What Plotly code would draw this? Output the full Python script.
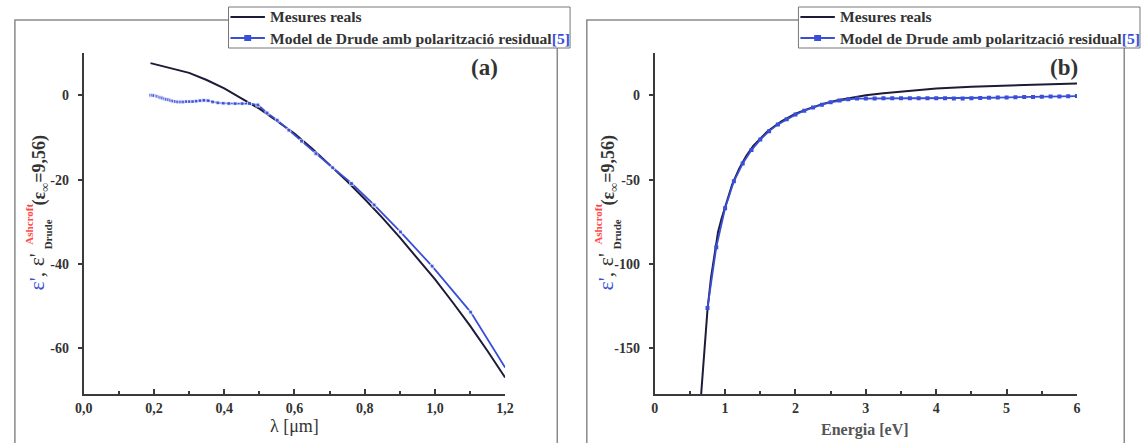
import plotly.graph_objects as go

# -------------------------------------------------
# DATA
# -------------------------------------------------

# (a) permittivity vs wavelength
lam_meas = [0.19, 0.25, 0.30, 0.35, 0.40, 0.45, 0.50, 0.55, 0.60, 0.65, 0.70,
            0.75, 0.80, 0.85, 0.90, 0.95, 1.00, 1.05, 1.10, 1.15, 1.20]
eps_meas_lam = [7.6, 6.3, 5.3, 3.6, 1.6, -0.8, -3.2, -6.1, -9.1, -12.6, -16.4,
                -20.4, -24.6, -29.0, -33.7, -38.6, -43.6, -49.0, -54.6, -60.6, -66.9]

lam_model = [0.190, 0.195, 0.200, 0.207, 0.211, 0.216, 0.220, 0.225, 0.231, 0.236,
             0.242, 0.248, 0.254, 0.261, 0.268, 0.276, 0.283, 0.292, 0.301, 0.310,
             0.320, 0.331, 0.342, 0.354, 0.367, 0.382, 0.397, 0.413, 0.431, 0.451,
             0.472, 0.496, 0.522, 0.551, 0.584, 0.620, 0.661, 0.709, 0.763, 0.827,
             0.902, 0.992, 1.102, 1.200]
eps_model_lam = [0.0, 0.0, -0.1, -0.2, -0.3, -0.5, -0.6, -0.7, -0.9, -1.0,
                 -1.1, -1.3, -1.4, -1.5, -1.6, -1.6, -1.6, -1.5, -1.5, -1.5,
                 -1.4, -1.3, -1.2, -1.3, -1.6, -1.8, -1.9, -2.0, -2.0, -2.0,
                 -2.0, -2.3, -4.2, -5.9, -8.3, -10.9, -13.9, -17.2, -20.9, -26.0,
                 -32.4, -40.5, -51.4, -64.5]

# (b) permittivity vs energy
en_meas = [0.66, 0.70, 0.75, 0.80, 0.85, 0.90, 0.95, 1.00, 1.10, 1.20, 1.30, 1.40,
           1.50, 1.60, 1.80, 2.00, 2.20, 2.40, 2.60, 2.80, 3.00, 3.25, 3.50, 4.00,
           4.50, 5.00, 5.50, 6.00]
eps_meas_en = [-177, -152, -127, -108, -93, -81, -73, -66, -53, -43.5, -36, -30,
               -25.5, -21.5, -15.5, -11, -7.8, -5.0, -3.0, -1.4, 0.0, 1.2, 2.2, 3.9,
               5.0, 5.8, 6.4, 6.9]

en_model = [0.75, 0.875, 1.0, 1.125, 1.25, 1.375, 1.5, 1.625, 1.75, 1.875,
            2.0, 2.125, 2.25, 2.375, 2.5, 2.625, 2.75, 2.875, 3.0, 3.125,
            3.25, 3.375, 3.5, 3.625, 3.75, 3.875, 4.0, 4.125, 4.25, 4.375,
            4.5, 4.625, 4.75, 4.875, 5.0, 5.125, 5.25, 5.375, 5.5, 5.625,
            5.75, 5.875, 6.0]
eps_model_en = [-126, -90, -67, -51, -40.5, -32.5, -26.3, -21.3, -17.3, -14.2,
                -11.5, -9.2, -7.3, -5.6, -4.2, -3.1, -2.4, -2.0, -1.9, -1.9,
                -1.8, -1.8, -1.8, -1.8, -1.8, -1.8, -1.8, -1.8, -1.9, -1.9,
                -1.8, -1.7, -1.5, -1.4, -1.3, -1.2, -1.1, -1.0, -0.9, -0.8,
                -0.7, -0.6, -0.5]

name_meas = "Mesures reals"
name_model = "Model de Drude amb polarització residual<span style='color:#3a4fd8'>[5]</span>"

lam_ticks = [0.0, 0.2, 0.4, 0.6, 0.8, 1.0, 1.2]
lam_ticktext = ["0,0", "0,2", "0,4", "0,6", "0,8", "1,0", "1,2"]
eps_lam_ticks = [-60, -40, -20, 0]
en_ticks = [0, 1, 2, 3, 4, 5, 6]
eps_en_ticks = [-150, -100, -50, 0]

# -------------------------------------------------
# STYLE
# -------------------------------------------------

W, H = 1148, 443
SERIF = "Liberation Serif, Times New Roman, serif"
BLACK = "#1c1c3a"
BLUE = "#3a4fd8"
AXIS = "#3a3a3a"


def px_x(x):
    return x / W


def px_y(y):
    return 1 - y / H


fig = go.Figure()

# -------------------------------------------------
# TRACES
# -------------------------------------------------

fig.add_trace(go.Scatter(
    x=lam_meas, y=eps_meas_lam, name=name_meas, mode="lines",
    line=dict(color=BLACK, width=2), xaxis="x", yaxis="y",
))
fig.add_trace(go.Scatter(
    x=lam_model, y=eps_model_lam, name=name_model, mode="lines+markers",
    line=dict(color=BLUE, width=1.8),
    marker=dict(symbol="square", size=[4] * (len(lam_model) - 1) + [0], color=BLUE),
    xaxis="x", yaxis="y",
))
fig.add_trace(go.Scatter(
    x=en_meas, y=eps_meas_en, name=name_meas, mode="lines",
    line=dict(color=BLACK, width=2), xaxis="x2", yaxis="y2",
))
fig.add_trace(go.Scatter(
    x=en_model, y=eps_model_en, name=name_model, mode="lines+markers",
    line=dict(color=BLUE, width=1.8),
    marker=dict(symbol="square", size=4, color=BLUE),
    xaxis="x2", yaxis="y2",
))

# -------------------------------------------------
# AXES
# -------------------------------------------------

tick_font = dict(family=SERIF, size=14, color="#333", weight="bold")
y_dom = [px_y(394), px_y(53)]

common_x = dict(
    showline=True, linecolor=AXIS, linewidth=2, ticks="inside", ticklen=5,
    tickwidth=1.5, tickcolor=AXIS, showgrid=False, zeroline=False,
    tickfont=tick_font, ticklabelstandoff=0,
)
common_y = dict(
    showline=True, linecolor=AXIS, linewidth=2, ticks="outside", ticklen=4,
    tickwidth=1.5, tickcolor=AXIS, showgrid=False, zeroline=False,
    tickfont=tick_font, ticklabelstandoff=6,
)

fig.update_layout(
    xaxis=dict(common_x, domain=[px_x(76), px_x(504)], range=[0, 1.2],
               tickvals=lam_ticks, ticktext=lam_ticktext, anchor="y",
               minor=dict(ticks="inside", ticklen=3, dtick=0.1, tickcolor=AXIS)),
    yaxis=dict(common_y, domain=y_dom, range=[-70.8, 10], anchor="x",
               tickvals=eps_lam_ticks, ticktext=["-60", "-40", "-20", "0"]),
    xaxis2=dict(common_x, domain=[px_x(656), px_x(1085)], range=[0, 6],
                tickvals=en_ticks, anchor="y2",
                minor=dict(ticks="inside", ticklen=3, dtick=0.5, tickcolor=AXIS)),
    yaxis2=dict(common_y, domain=y_dom, range=[-177, 25], anchor="x2",
                tickvals=eps_en_ticks, ticktext=["-150", "-100", "-50", "0"]),
)

# -------------------------------------------------
# FRAMES
# -------------------------------------------------

for x0, x1 in [(6, 557), (587, 1133)]:
    fig.add_shape(type="rect", xref="paper", yref="paper", layer="below",
                  x0=px_x(x0), x1=px_x(x1), y0=px_y(448), y1=px_y(20),
                  line=dict(color="#8a8a8a", width=1.5))

annotations = []


def ann(text, x, y, size, color="#333", bold=True, angle=0, anchor="center"):
    annotations.append(dict(
        text=text, x=px_x(x), y=px_y(y), xref="paper", yref="paper",
        showarrow=False, textangle=angle, xanchor=anchor, yanchor="middle",
        font=dict(family=SERIF, size=size, color=color,
                  weight="bold" if bold else "normal"),
    ))


# -------------------------------------------------
# LEGENDS (drawn by hand: boxed, two rows)
# -------------------------------------------------

for lx in [223, 802]:
    fig.add_shape(type="rect", xref="paper", yref="paper", layer="above",
                  x0=px_x(lx), x1=px_x(lx + 347), y0=px_y(48), y1=px_y(7),
                  fillcolor="white", line=dict(color="#777", width=1))
    for row_y, color in [(17, BLACK), (38, BLUE)]:
        fig.add_shape(type="line", xref="paper", yref="paper", layer="above",
                      x0=px_x(lx + 2), x1=px_x(lx + 37), y0=px_y(row_y), y1=px_y(row_y),
                      line=dict(color=color, width=2))
    fig.add_shape(type="rect", xref="paper", yref="paper", layer="above",
                  x0=px_x(lx + 16), x1=px_x(lx + 23), y0=px_y(41), y1=px_y(35),
                  fillcolor=BLUE, line=dict(width=0))
    ann(name_meas, lx + 40, 17, 15.6, "#333", anchor="left")
    ann(name_model, lx + 40, 38, 15.6, "#333", anchor="left")

# -------------------------------------------------
# LABELS
# -------------------------------------------------

ann("(a)", 483, 68, 23, "#333")
ann("(b)", 1072, 68, 23, "#333")
ann("λ [μm]", 290, 426, 18, "#333", bold=False)
ann("Energia [eV]", 870, 430, 16, "#555")

for dx in [0, 578]:
    ann("<span style='color:%s'>ε'</span>, ε'" % BLUE, 27 + dx, 272, 22, "#333",
        bold=False, angle=-90)
    ann("Ashcroft", 20 + dx, 224, 11, "#ff4a4a", angle=-90)
    ann("Drude", 40 + dx, 234, 11, "#333", angle=-90)
    ann("(ε<sub>∞</sub>=9,56)", 32 + dx, 170, 18, "#333", angle=-90)

fig.update_layout(
    annotations=annotations,
    width=W, height=H,
    margin=dict(l=0, r=0, t=0, b=0),
    paper_bgcolor="white", plot_bgcolor="white",
    showlegend=False,
)

fig.write_html("out.html", config={"displayModeBar": False},
               post_script="document.body.style.margin = '0';")
